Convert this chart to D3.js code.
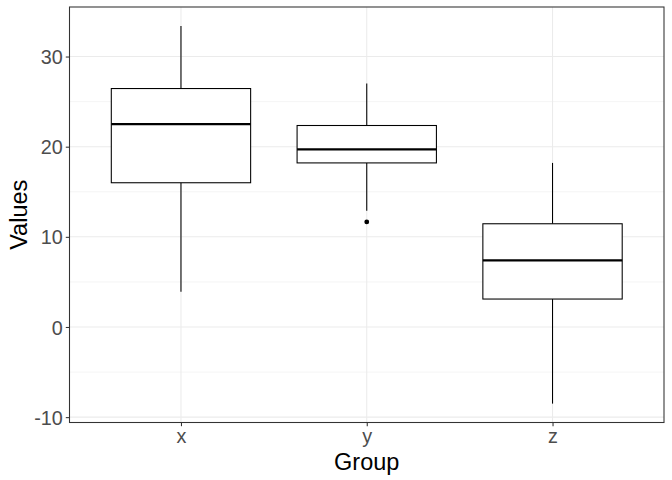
<!DOCTYPE html>
<html>
<head>
<meta charset="utf-8">
<script src="https://cdn.jsdelivr.net/npm/d3@7"></script>
<style>
  html, body { margin: 0; padding: 0; background: #fff; }
  svg { display: block; }
  text { font-family: "Liberation Sans", Arial, sans-serif; }
</style>
</head>
<body>
<div id="chart"></div>
<script>
const categories = ["x", "y", "z"];
const whiskerLow = [3.9, 12.9, -8.5];
const q1 = [16.0, 18.2, 3.1];
const medians = [22.5, 19.7, 7.4];
const q3 = [26.45, 22.35, 11.45];
const whiskerHigh = [33.4, 27.0, 18.2];
const outliers = [[], [11.65], []];
const yTicks = [-10, 0, 10, 20, 30];
const yMinor = [-5, 5, 15, 25];
const xTitle = "Group";
const yTitle = "Values";

(function () {
const W = 672, H = 480;
const pLeft = 69.5, pRight = 664, pTop = 7, pBottom = 422.5;

const svg = d3.select("#chart").append("svg").attr("width", W).attr("height", H);
svg.append("rect").attr("width", W).attr("height", H).attr("fill", "#fff");

// ggplot discrete expansion: 0.6 units on each side
const xs = d3.scaleLinear().domain([0.4, categories.length + 0.6]).range([pLeft, pRight]);
const xc = c => xs(categories.indexOf(c) + 1);

const allVals = whiskerLow.concat(whiskerHigh, outliers.flat());
const lo = d3.min(allVals), hi = d3.max(allVals);
const pad = (hi - lo) * 0.05;
const y = d3.scaleLinear().domain([lo - pad, hi + pad]).range([pBottom, pTop]);

const g = svg.append("g");
g.selectAll("line.minor").data(yMinor).enter().append("line")
  .attr("x1", pLeft).attr("x2", pRight)
  .attr("y1", d => y(d)).attr("y2", d => y(d))
  .attr("stroke", "#EBEBEB").attr("stroke-width", 0.55);
g.selectAll("line.majy").data(yTicks).enter().append("line")
  .attr("x1", pLeft).attr("x2", pRight)
  .attr("y1", d => y(d)).attr("y2", d => y(d))
  .attr("stroke", "#EBEBEB").attr("stroke-width", 1.07);
g.selectAll("line.majx").data(categories).enter().append("line")
  .attr("x1", d => xc(d)).attr("x2", d => xc(d))
  .attr("y1", pTop).attr("y2", pBottom)
  .attr("stroke", "#EBEBEB").attr("stroke-width", 1.07);

const bw = 0.75 * (xs(2) - xs(1));
const boxes = svg.append("g");
categories.forEach((c, i) => {
  const cx = xc(c);
  boxes.append("line").attr("x1", cx).attr("x2", cx)
    .attr("y1", y(q3[i])).attr("y2", y(whiskerHigh[i]))
    .attr("stroke", "#000").attr("stroke-width", 1.07);
  boxes.append("line").attr("x1", cx).attr("x2", cx)
    .attr("y1", y(q1[i])).attr("y2", y(whiskerLow[i]))
    .attr("stroke", "#000").attr("stroke-width", 1.07);
  boxes.append("rect").attr("x", cx - bw / 2).attr("width", bw)
    .attr("y", y(q3[i])).attr("height", y(q1[i]) - y(q3[i]))
    .attr("fill", "#fff").attr("stroke", "#000").attr("stroke-width", 1.07);
  boxes.append("line").attr("x1", cx - bw / 2).attr("x2", cx + bw / 2)
    .attr("y1", y(medians[i])).attr("y2", y(medians[i]))
    .attr("stroke", "#000").attr("stroke-width", 2.2);
  outliers[i].forEach(v => {
    boxes.append("circle").attr("cx", cx).attr("cy", y(v)).attr("r", 2.4).attr("fill", "#000");
  });
});

svg.append("rect").attr("x", pLeft).attr("y", pTop).attr("width", pRight - pLeft).attr("height", pBottom - pTop)
  .attr("fill", "none").attr("stroke", "#333333").attr("stroke-width", 1.07);

const yAxis = d3.axisLeft(y).tickValues(yTicks).tickSize(3.7).tickPadding(3).tickFormat(d => String(d));
const ya = svg.append("g").attr("transform", `translate(${pLeft},0)`).call(yAxis);
ya.select(".domain").remove();
ya.selectAll(".tick line").attr("stroke", "#333333").attr("stroke-width", 1.07);
ya.selectAll(".tick text").attr("fill", "#4D4D4D").attr("font-size", "19.8px")
  .attr("font-family", "Liberation Sans, Arial, sans-serif").attr("dy", "0.36em");

const xAxis = d3.axisBottom(xs).tickValues(categories.map((c, i) => i + 1)).tickFormat(d => categories[d - 1])
  .tickSize(3.7).tickPadding(3);
const xa = svg.append("g").attr("transform", `translate(0,${pBottom})`).call(xAxis);
xa.select(".domain").remove();
xa.selectAll(".tick line").attr("stroke", "#333333").attr("stroke-width", 1.07);
xa.selectAll(".tick text").attr("fill", "#4D4D4D").attr("font-size", "19.8px")
  .attr("font-family", "Liberation Sans, Arial, sans-serif");

svg.append("text").attr("x", (pLeft + pRight) / 2).attr("y", 470)
  .attr("text-anchor", "middle").attr("font-size", "23.5px").attr("fill", "#000").text(xTitle);
svg.append("text").attr("transform", `translate(27,${(pTop + pBottom) / 2}) rotate(-90)`)
  .attr("text-anchor", "middle").attr("font-size", "23.5px").attr("fill", "#000").text(yTitle);
})();
</script>
</body>
</html>
